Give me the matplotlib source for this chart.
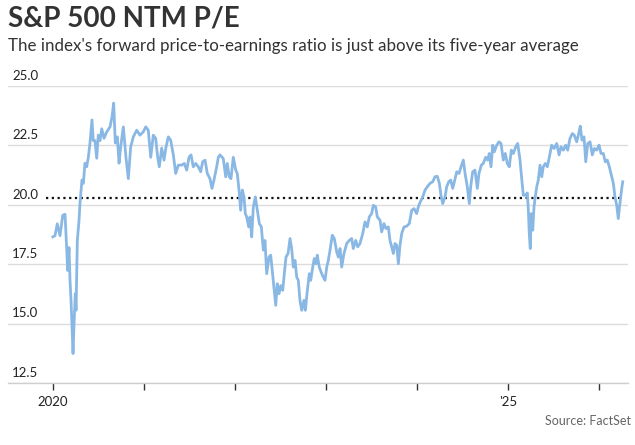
import matplotlib
matplotlib.use("Agg")
import matplotlib.pyplot as plt

plt.rcParams['font.family'] = ['Lato', 'DejaVu Sans']

# Decimal years and forward P/E readings
years = [
    2020.000, 2020.023, 2020.048, 2020.078, 2020.108, 2020.133, 2020.151, 2020.162, 2020.177, 2020.188,
    2020.199, 2020.210, 2020.221, 2020.232, 2020.246, 2020.254, 2020.268, 2020.287, 2020.297, 2020.319,
    2020.334, 2020.352, 2020.371, 2020.389, 2020.407, 2020.429, 2020.443, 2020.462, 2020.481, 2020.498,
    2020.517, 2020.536, 2020.561, 2020.591, 2020.627, 2020.649, 2020.667, 2020.685, 2020.707, 2020.726,
    2020.744, 2020.773, 2020.802, 2020.828, 2020.854, 2020.883, 2020.920, 2020.956, 2020.992, 2021.019,
    2021.047, 2021.074, 2021.102, 2021.128, 2021.150, 2021.168, 2021.194, 2021.220, 2021.242, 2021.267,
    2021.293, 2021.322, 2021.348, 2021.377, 2021.414, 2021.442, 2021.469, 2021.494, 2021.516, 2021.541,
    2021.568, 2021.596, 2021.622, 2021.644, 2021.670, 2021.695, 2021.724, 2021.746, 2021.768, 2021.798,
    2021.816, 2021.834, 2021.870, 2021.897, 2021.914, 2021.936, 2021.955, 2021.980, 2022.007, 2022.024,
    2022.043, 2022.061, 2022.079, 2022.098, 2022.112, 2022.127, 2022.149, 2022.164, 2022.182, 2022.200,
    2022.222, 2022.244, 2022.266, 2022.288, 2022.310, 2022.328, 2022.347, 2022.372, 2022.391, 2022.408,
    2022.427, 2022.446, 2022.463, 2022.482, 2022.501, 2022.523, 2022.540, 2022.559, 2022.581, 2022.603,
    2022.621, 2022.639, 2022.658, 2022.676, 2022.694, 2022.712, 2022.731, 2022.756, 2022.771, 2022.793,
    2022.815, 2022.830, 2022.852, 2022.869, 2022.888, 2022.902, 2022.924, 2022.951, 2022.968, 2022.987,
    2023.006, 2023.023, 2023.042, 2023.067, 2023.089, 2023.115, 2023.133, 2023.152, 2023.170, 2023.195,
    2023.225, 2023.254, 2023.280, 2023.297, 2023.324, 2023.346, 2023.371, 2023.401, 2023.426, 2023.451,
    2023.473, 2023.499, 2023.517, 2023.543, 2023.561, 2023.591, 2023.609, 2023.634, 2023.656, 2023.682,
    2023.700, 2023.719, 2023.737, 2023.755, 2023.774, 2023.792, 2023.810, 2023.829, 2023.854, 2023.884,
    2023.912, 2023.939, 2023.964, 2023.993, 2024.011, 2024.030, 2024.059, 2024.085, 2024.110, 2024.139,
    2024.169, 2024.194, 2024.220, 2024.242, 2024.260, 2024.279, 2024.304, 2024.323, 2024.345, 2024.367,
    2024.389, 2024.411, 2024.433, 2024.458, 2024.480, 2024.505, 2024.527, 2024.549, 2024.571, 2024.586,
    2024.608, 2024.633, 2024.659, 2024.677, 2024.703, 2024.724, 2024.751, 2024.773, 2024.790, 2024.809,
    2024.828, 2024.845, 2024.872, 2024.897, 2024.919, 2024.944, 2024.966, 2024.988, 2025.010, 2025.032,
    2025.054, 2025.080, 2025.102, 2025.127, 2025.146, 2025.164, 2025.186, 2025.208, 2025.219, 2025.229,
    2025.240, 2025.251, 2025.267, 2025.281, 2025.295, 2025.311, 2025.328, 2025.347, 2025.366, 2025.383,
    2025.405, 2025.427, 2025.449, 2025.475, 2025.501, 2025.530, 2025.556, 2025.577, 2025.603, 2025.629,
    2025.651, 2025.676, 2025.702, 2025.723, 2025.750, 2025.772, 2025.789, 2025.808, 2025.830, 2025.849,
    2025.871, 2025.896, 2025.921, 2025.943, 2025.969, 2025.995, 2026.017, 2026.042, 2026.064, 2026.086,
    2026.108, 2026.134, 2026.152, 2026.170, 2026.189, 2026.206, 2026.224, 2026.244, 2026.255,
]
pe = [
    18.65, 18.70, 19.20, 18.70, 19.56, 19.60, 18.20, 17.24, 18.20, 16.80,
    15.98, 14.85, 13.74, 15.00, 16.27, 15.56, 18.50, 19.35, 20.06, 21.04,
    20.90, 21.75, 21.60, 22.00, 22.60, 23.57, 22.70, 22.70, 21.96, 22.93,
    22.70, 23.20, 22.80, 23.07, 23.28, 23.70, 24.28, 22.60, 22.86, 21.75,
    22.44, 23.28, 22.00, 21.10, 22.44, 22.86, 23.14, 22.93, 23.07, 23.28,
    23.14, 22.00, 22.93, 22.80, 22.00, 21.60, 22.39, 21.88, 22.44, 22.86,
    22.72, 22.10, 21.32, 21.67, 21.67, 21.74, 21.46, 22.00, 22.10, 21.60,
    21.74, 21.60, 21.39, 21.81, 21.88, 21.32, 21.10, 20.69, 21.04, 21.60,
    22.00, 22.10, 21.95, 21.18, 21.74, 21.18, 21.10, 22.00, 21.46, 21.32,
    20.62, 19.77, 20.62, 20.33, 19.63, 19.49, 19.07, 19.49, 18.65, 19.91,
    20.33, 19.77, 19.21, 19.07, 18.09, 18.50, 17.10, 17.80, 17.88, 17.24,
    16.54, 15.77, 16.68, 16.26, 16.60, 16.40, 17.10, 17.80, 17.95, 18.58,
    18.16, 17.38, 17.66, 16.96, 16.82, 15.98, 15.56, 15.98, 15.56, 16.40,
    17.10, 16.82, 17.38, 17.74, 17.52, 17.88, 17.38, 17.10, 16.96, 16.82,
    17.38, 17.66, 18.09, 18.72, 18.58, 18.02, 17.80, 18.16, 17.38, 17.95,
    18.37, 18.50, 18.58, 18.16, 18.50, 18.23, 18.37, 18.79, 19.28, 19.07,
    19.49, 19.63, 19.98, 19.91, 19.49, 19.35, 18.86, 19.21, 19.00, 19.07,
    18.50, 18.23, 17.95, 18.37, 18.30, 17.52, 18.30, 18.79, 19.07, 19.10,
    19.21, 19.77, 19.84, 19.63, 19.91, 20.10, 20.33, 20.62, 20.76, 20.90,
    20.97, 21.18, 21.20, 20.90, 20.40, 20.05, 20.33, 20.76, 20.97, 21.04,
    20.69, 21.04, 21.39, 21.32, 21.60, 21.88, 21.25, 20.76, 20.05, 20.76,
    21.39, 21.46, 20.69, 21.32, 21.67, 21.74, 22.00, 21.88, 22.16, 21.60,
    22.51, 22.23, 22.51, 22.65, 22.58, 21.88, 22.16, 21.74, 21.60, 22.30,
    22.16, 22.44, 22.58, 21.90, 21.10, 20.40, 20.40, 20.50, 19.77, 18.79,
    18.16, 19.63, 18.93, 19.91, 20.33, 20.76, 21.04, 21.67, 21.18, 21.60,
    21.74, 21.60, 22.00, 22.51, 22.37, 22.58, 22.10, 22.44, 22.30, 22.51,
    22.30, 22.79, 23.00, 22.93, 22.65, 23.00, 23.31, 22.72, 22.86, 21.81,
    22.58, 22.65, 22.10, 22.37, 22.30, 22.51, 22.16, 22.16, 21.81, 21.88,
    21.60, 21.18, 20.90, 20.33, 19.98, 19.42, 20.05, 20.69, 20.97,
]
five_year_avg = 20.3
y_ticks = [12.5, 15.0, 17.5, 20.0, 22.5, 25.0]
x_ticks = [2020, 2021, 2022, 2023, 2024, 2025, 2026]
x_labels = ['2020', '', '', '', '', "'25", '']

fig = plt.figure(figsize=(6.35, 4.45), dpi=100)
ax = fig.add_axes([8/635, 1 - 383/445, (628 - 8)/635, (383 - 86)/445])
x0 = 2020 + (8 - 52.9) / 91.1
x1 = 2020 + (628 - 52.9) / 91.1
ax.set_xlim(x0, x1)
ax.set_ylim(12.5, 25.0)

for v in y_ticks:
    ax.axhline(v, color='#dcdcdc', lw=1.0, zorder=1)
    ax.text(4/620, v + 0.18, f'{v:.1f}', transform=ax.get_yaxis_transform(),
            ha='left', va='bottom', fontsize=9.5, color='#222222')
ax.yaxis.set_visible(False)

ax.plot([years[0] - 0.075, years[-1]], [five_year_avg, five_year_avg],
        color='#111111', lw=1.6, linestyle=(0, (1, 1.6)), dash_capstyle='butt',
        zorder=2)
ax.plot(years, pe, color='#8ab8e5', lw=2.0, zorder=3, solid_joinstyle='round',
        clip_on=False)

for s in ['top', 'right', 'left']:
    ax.spines[s].set_visible(False)
ax.spines['bottom'].set_color('#cfcfcf')
ax.spines['bottom'].set_linewidth(1.0)
ax.set_xticks(x_ticks)
ax.set_xticklabels(x_labels)
ax.tick_params(axis='x', length=5, width=1, color='#333333', labelsize=9.5,
               labelcolor='#222222', pad=4)

fig.text(8/635, 1 - 18/445, 'S&P 500 NTM P/E', fontsize=20, fontweight='bold',
         color='#333333', ha='left', va='center')
fig.text(8/635, 1 - 46/445,
         "The index's forward price-to-earnings ratio is just above its five-year average",
         fontsize=12.2, color='#333333', ha='left', va='center')
fig.text(631/635, 1 - 421/445, 'Source: FactSet', fontsize=9, color='#666666',
         ha='right', va='center')

fig.savefig('out.png', dpi=100)
